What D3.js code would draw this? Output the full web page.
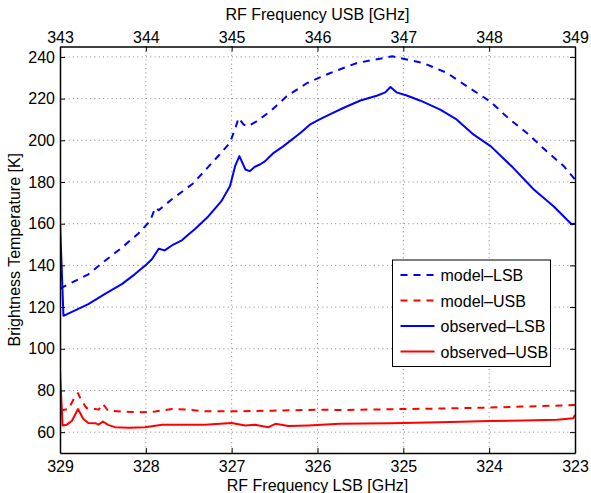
<!DOCTYPE html>
<html lang="en">
<head>
    <meta charset="utf8">
    <title>Brightness Temperature</title>
    <script src="https://d3js.org/d3.v7.min.js"></script>
    <style>
        body { margin: 0; background: #fff; }
        svg { display: block; font-family: "Liberation Sans", Arial, sans-serif; }
        .axis text { font-size: 16px; fill: #000; }
        .axis path, .axis line { stroke: #000; }
        .grid line { stroke: #888; stroke-dasharray: 1,3.3; }
    </style>
</head>
<body>
    <svg id="chart" width="591" height="493"></svg>
    <script>
        // LSB frequency [GHz] and temperature [K]
        const obsLsbFreq = [329.00, 328.96, 328.67, 328.48, 328.28, 328.13, 327.99, 327.93, 327.85, 327.78,
            327.68, 327.58, 327.50, 327.43, 327.27, 327.12, 327.02, 326.96, 326.91, 326.84, 326.79, 326.73,
            326.67, 326.61, 326.51, 326.40, 326.20, 326.09, 325.97, 325.85, 325.70, 325.50, 325.31, 325.21,
            325.15, 325.08, 324.96, 324.80, 324.57, 324.38, 324.18, 323.98, 323.72, 323.48, 323.25, 323.04, 323.00];
        const obsLsbTemp = [161, 115.8, 121.4, 126.2, 131, 135.7, 140.5, 142.9, 148, 147.2,
            150, 152, 154.9, 157.3, 163.6, 170.8, 178, 187.6, 192.4, 186, 185.2, 187.3,
            188.4, 190, 194, 197.1, 203.5, 207.5, 210.2, 212.6, 215.5, 219.1, 221.4, 223,
            225.6, 223, 221.5, 219, 214.7, 210, 202.7, 197.1, 186.8, 176.4, 168.4, 159.7, 160];

        const modLsbFreq = [329.00, 328.67, 328.48, 328.28, 328.09, 327.95, 327.89, 327.85, 327.70, 327.45,
            327.14, 327.02, 326.95, 326.92, 326.86, 326.81, 326.71, 326.55, 326.36, 326.12, 325.85, 325.54,
            325.23, 325.13, 324.96, 324.77, 324.49, 324.26, 323.99, 323.76, 323.56, 323.33, 323.13, 323.00];
        const modLsbTemp = [128.9, 135.7, 142.1, 148.5, 155.2, 161.3, 167.7, 166.5, 171.6, 179.3,
            193.2, 198.8, 206.7, 210.7, 207.5, 206.7, 209.1, 213.9, 221.1, 227.5, 232.3, 237.1,
            239.5, 240.3, 238.8, 237.1, 232.3, 225.9, 218.7, 210, 203.5, 194.7, 187.6, 181.2];

        // USB frequency [GHz] and temperature [K]
        const obsUsbFreq = [343.00, 343.03, 343.08, 343.14, 343.21, 343.27, 343.33, 343.41, 343.45, 343.50,
            343.56, 343.64, 343.80, 343.99, 344.19, 344.50, 344.69, 345.00, 345.16, 345.27, 345.43, 345.51,
            345.66, 345.89, 346.05, 346.26, 346.85, 347.43, 348.01, 348.40, 348.79, 348.98, 349.00];
        const obsUsbTemp = [89.5, 63.2, 63.6, 65.5, 71.1, 66.4, 64.4, 64.3, 63.6, 65.1,
            63.5, 62.4, 62.1, 62.4, 63.5, 63.5, 63.5, 64.4, 63.2, 63.5, 62.4, 64,
            62.9, 63.2, 63.5, 64, 64.3, 64.8, 65.3, 65.6, 66, 66.7, 68.3];

        const modUsbFreq = [343.00, 343.10, 343.17, 343.21, 343.25, 343.31, 343.41, 343.45, 343.50, 343.56,
            343.72, 343.95, 344.11, 344.30, 344.50, 344.69, 345.08, 345.47, 346.05, 346.26, 346.85, 347.43,
            348.01, 348.59, 349.00];
        const modUsbTemp = [70.3, 71.1, 76.7, 78.7, 75.1, 71.5, 71.1, 70.8, 73.5, 70.3,
            69.9, 69.6, 69.9, 71.1, 70.8, 70, 70, 70.3, 70.8, 70.6, 71, 71.3,
            71.8, 72.5, 73];

        const lsbTicks = [329, 328, 327, 326, 325, 324, 323];
        const usbTicks = [343, 344, 345, 346, 347, 348, 349];
        const tempTicks = [60, 80, 100, 120, 140, 160, 180, 200, 220, 240];
        const legendNames = ["model–LSB", "model–USB", "observed–LSB", "observed–USB"];

        const svg = d3.select("#chart");
        const pLeft = 60, pRight = 575, pTop = 46.5, pBottom = 453;

        const xLsb = d3.scaleLinear().domain([329, 323]).range([pLeft, pRight]);
        const xUsb = d3.scaleLinear().domain([343, 349]).range([pLeft, pRight]);
        const y = d3.scaleLinear().domain([50, 245]).range([pBottom, pTop]);

        // grid
        svg.append("g").attr("class", "grid")
           .selectAll("line").data(tempTicks).enter().append("line")
           .attr("x1", pLeft).attr("x2", pRight)
           .attr("y1", d => y(d)).attr("y2", d => y(d));
        svg.append("g").attr("class", "grid")
           .selectAll("line").data(lsbTicks.slice(1, -1)).enter().append("line")
           .attr("x1", d => xLsb(d)).attr("x2", d => xLsb(d))
           .attr("y1", pTop).attr("y2", pBottom);

        svg.append("clipPath").attr("id", "clip")
           .append("rect").attr("x", pLeft).attr("y", pTop)
           .attr("width", pRight - pLeft).attr("height", pBottom - pTop);

        const plot = svg.append("g").attr("clip-path", "url(#clip)");

        function drawLine(freq, temp, xs, color, dashed) {
            const pts = freq.map((f, i) => [xs(f), y(temp[i])]);
            plot.append("path")
                .attr("d", d3.line()(pts))
                .attr("fill", "none")
                .attr("stroke", color)
                .attr("stroke-width", 2)
                .attr("stroke-linejoin", "round")
                .attr("stroke-dasharray", dashed ? "7,6" : null);
        }

        drawLine(modLsbFreq, modLsbTemp, xLsb, "#0000ff", true);
        drawLine(modUsbFreq, modUsbTemp, xUsb, "#ff0000", true);
        drawLine(obsLsbFreq, obsLsbTemp, xLsb, "#0000ff", false);
        drawLine(obsUsbFreq, obsUsbTemp, xUsb, "#ff0000", false);

        // axes with inward ticks
        const axB = svg.append("g").attr("class", "axis")
           .attr("transform", `translate(0,${pBottom})`)
           .call(d3.axisBottom(xLsb).tickValues(lsbTicks).tickFormat(d3.format("d"))
                 .tickSizeInner(-5).tickSizeOuter(0).tickPadding(7.5));
        const axT = svg.append("g").attr("class", "axis")
           .attr("transform", `translate(0,${pTop})`)
           .call(d3.axisTop(xUsb).tickValues(usbTicks).tickFormat(d3.format("d"))
                 .tickSizeInner(-5).tickSizeOuter(0).tickPadding(4));
        const axL = svg.append("g").attr("class", "axis")
           .attr("transform", `translate(${pLeft},0)`)
           .call(d3.axisLeft(y).tickValues(tempTicks)
                 .tickSizeInner(-5).tickSizeOuter(0).tickPadding(5));
        const axR = svg.append("g").attr("class", "axis")
           .attr("transform", `translate(${pRight},0)`)
           .call(d3.axisRight(y).tickValues(tempTicks).tickFormat("")
                 .tickSizeInner(-5).tickSizeOuter(0));
        [axB, axT, axL, axR].forEach(a => {
            a.select(".domain").attr("stroke-width", 1.5);
            a.selectAll(".tick line").attr("stroke-width", 1);
        });

        // axis titles
        svg.append("text").attr("x", (pLeft + pRight) / 2).attr("y", 20)
           .attr("text-anchor", "middle").attr("font-size", 16)
           .text("RF Frequency USB [GHz]");
        svg.append("text").attr("x", (pLeft + pRight) / 2).attr("y", 490.5)
           .attr("text-anchor", "middle").attr("font-size", 16)
           .text("RF Frequency LSB [GHz]");
        svg.append("text")
           .attr("transform", `translate(20,${(pTop + pBottom) / 2}) rotate(-90)`)
           .attr("text-anchor", "middle").attr("font-size", 16)
           .text("Brightness Temperature [K]");

        // legend
        const legend = svg.append("g").attr("transform", "translate(392.5,260)");
        legend.append("rect").attr("width", 158).attr("height", 106.5)
              .attr("fill", "#fff").attr("stroke", "#000").attr("stroke-width", 1);
        const colors = ["#0000ff", "#ff0000", "#0000ff", "#ff0000"];
        const dashes = [true, true, false, false];
        legendNames.forEach((name, i) => {
            const yy = 15 + i * 25.5;
            legend.append("line").attr("x1", 8).attr("x2", 42)
                  .attr("y1", yy).attr("y2", yy)
                  .attr("stroke", colors[i]).attr("stroke-width", 2)
                  .attr("stroke-dasharray", dashes[i] ? "7,6" : null);
            legend.append("text").attr("x", 48).attr("y", yy + 6)
                  .attr("font-size", 16).text(name);
        });
    </script>
</body>
</html>
